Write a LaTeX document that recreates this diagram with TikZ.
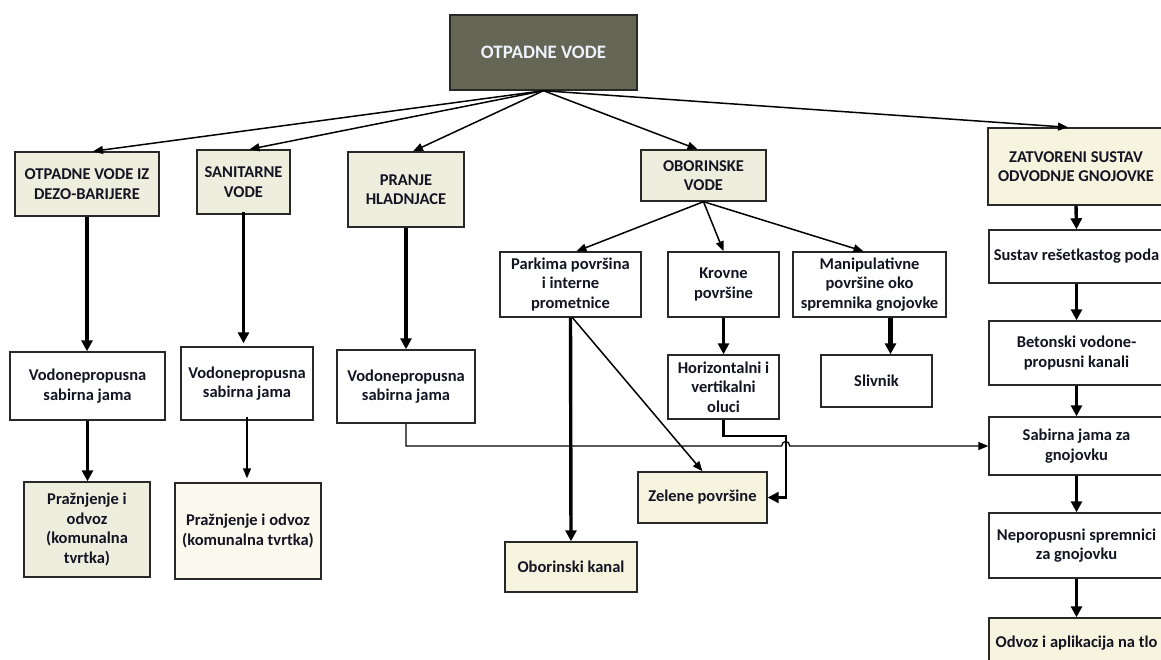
\documentclass[tikz,border=0pt]{standalone}
\usepackage{fontspec}
\setmainfont{Carlito}
\usepackage{tikz}
\usetikzlibrary{arrows.meta}

\definecolor{topfill}{RGB}{102,102,86}
\definecolor{olive}{RGB}{238,238,222}
\definecolor{cream}{RGB}{246,244,222}
\definecolor{pale}{RGB}{252,250,238}
\definecolor{boxline}{RGB}{40,40,40}
\definecolor{txt}{RGB}{20,20,35}

\tikzset{
  box/.style={draw=boxline, line width=1.4pt, fill=white, align=center, text=txt,
    inner sep=1pt, font=\fontsize{16.5}{19.5}\selectfont\bfseries},
  thn/.style={-{Triangle[length=10pt,width=8pt]}, line width=1.5pt},
  thk/.style={-{Triangle[length=11pt,width=11pt]}, line width=3.4pt},
}

\begin{document}
\begin{tikzpicture}[x=1pt,y=-1pt]
\useasboundingbox (0,0) rectangle (1161,660);
\clip (0,0) rectangle (1161,660);

\node[box, fill=topfill, text={rgb,255:red,238;green,242;blue,250}, font=\fontsize{19}{22}\selectfont\bfseries,
  minimum width=187, minimum height=75] (top) at (543.5,52.5) {OTPADNE VODE};

\node[box, fill=olive, minimum width=144, minimum height=64] (dezo) at (87,184) {OTPADNE VODE IZ\\DEZO-BARIJERE};
\node[box, fill=olive, minimum width=93, minimum height=64] (sanit) at (243.5,182) {SANITARNE\\VODE};
\node[box, fill=olive, minimum width=116, minimum height=75] (pranje) at (406,189.5) {PRANJE\\HLADNJACE};
\node[box, fill=olive, minimum width=125, minimum height=51] (obor) at (703.5,175.5) {OBORINSKE\\VODE};
\node[box, fill=cream, minimum width=176, minimum height=77] (zatv) at (1076,166.5) {ZATVORENI SUSTAV\\ODVODNJE GNOJOVKE};

\node[box, minimum width=155, minimum height=68] (vodA) at (87.5,386) {Vodonepropusna\\sabirna jama};
\node[box, minimum width=132, minimum height=73] (vodB) at (247,383.5) {Vodonepropusna\\sabirna jama};
\node[box, minimum width=138, minimum height=73] (vodC) at (406,386.5) {Vodonepropusna\\sabirna jama};
\node[box, fill=olive, minimum width=126, minimum height=95] (praznA) at (87,529.5) {Pražnjenje i\\odvoz\\(komunalna\\tvrtka)};
\node[box, fill=pale, minimum width=146, minimum height=96] (praznB) at (248,531) {Pražnjenje i odvoz\\(komunalna tvrtka)};

\node[box, minimum width=141, minimum height=65] (parkima) at (570.5,284.5) {Parkima površina\\i interne\\prometnice};
\node[box, minimum width=111, minimum height=65] (krovne) at (723.5,284.5) {Krovne\\površine};
\node[box, minimum width=153, minimum height=65] (manip) at (869.5,284.5) {Manipulativne\\površine oko\\spremnika gnojovke};
\node[box, minimum width=111, minimum height=64] (oluci) at (723.5,387) {Horizontalni i\\vertikalni\\oluci};
\node[box, minimum width=111, minimum height=52] (slivnik) at (876.5,381) {Slivnik};
\node[box, fill=cream, minimum width=129, minimum height=51] (zelene) at (702.5,497.5) {Zelene površine};
\node[box, fill=cream, minimum width=132, minimum height=50] (kanal) at (571,567) {Oborinski kanal};

\node[box, minimum width=175, minimum height=53] (sustav) at (1076.5,256.5) {Sustav rešetkastog poda};
\node[box, minimum width=175, minimum height=64] (beton) at (1076.5,353) {Betonski vodone-\\propusni kanali};
\node[box, minimum width=175, minimum height=58] (sabirna) at (1076.5,446) {Sabirna jama za\\gnojovku};
\node[box, minimum width=175, minimum height=65] (nepor) at (1076.5,545.5) {Neporopusni spremnici\\za gnojovku};
\node[box, fill=cream, minimum width=175, minimum height=50] (odvoz) at (1076.5,643) {Odvoz i aplikacija na tlo};

\coordinate (bend) at ([xshift=18]zelene.east);

\draw[thn] (top.south) -- ([xshift=6]dezo.north);
\draw[thn] (top.south) -- ([xshift=6]sanit.north);
\draw[thn] (top.south) -- ([xshift=7]pranje.north);
\draw[thn] (top.south) -- ([xshift=-6]obor.north);
\draw[thn] (top.south) -- ([xshift=-8]zatv.north);

\draw[thk] (dezo.south) -- (dezo.south |- vodA.north);
\draw[thk] (vodA.south) -- (vodA.south |- praznA.north);
\draw[thk] ([yshift=3]sanit.south) -- ([yshift=3]sanit.south |- vodB.north);
\draw[thn] ([yshift=4]vodB.south) -- ([yshift=4]vodB.south |- praznB.north);
\draw[thk] (pranje.south) -- (pranje.south |- vodC.north);
\draw[thn, line width=1.3pt] (vodC.south) |- ([xshift=-4]bend |- sabirna.west)
  .. controls +(0,-6) and +(0,-6) .. ++(8,0) -- (sabirna.west);

\draw[thn] (obor.south) -- ([xshift=6]parkima.north);
\draw[thn] (obor.south) -- (krovne.north);
\draw[thn] (obor.south) -- ([xshift=-6]manip.north);

\draw[thk] (parkima.south) -- (kanal.north);
\draw[thn] ([xshift=2]parkima.south) -- (zelene.north);
\draw[thk, line width=2.6pt] (krovne.south) -- (oluci.north);
\draw[thk, line width=4.4pt] ([xshift=14]slivnik.north |- manip.south) -- ([xshift=14]slivnik.north);
\draw[thk, line width=2.2pt] (oluci.south) -- ++(0,16) -| (bend) -- (zelene.east);

\draw[thk] (zatv.south) -- (sustav.north);
\draw[thk] (sustav.south) -- (beton.north);
\draw[thk] (beton.south) -- (sabirna.north);
\draw[thk] (sabirna.south) -- (nepor.north);
\draw[thk] (nepor.south) -- (odvoz.north);
\end{tikzpicture}
\end{document}
